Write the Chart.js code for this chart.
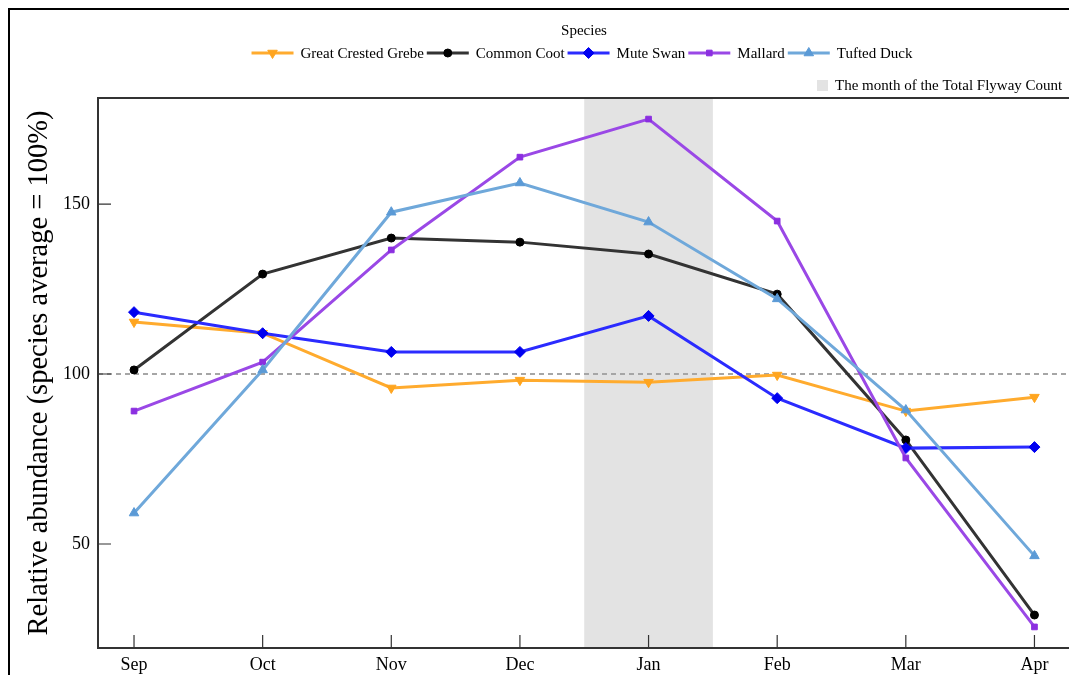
<!DOCTYPE html>
<html>
<head>
<meta charset="utf-8">
<script src="https://cdn.jsdelivr.net/npm/chart.js@4"></script>
<style>
  html, body { margin: 0; padding: 0; background: #fff; }
  canvas { display: block; }
</style>
</head>
<body>
<canvas id="abundanceChart" width="1069" height="675"></canvas>
<script>
// months on the x axis
const months = ["Sep", "Oct", "Nov", "Dec", "Jan", "Feb", "Mar", "Apr"];
const yTicks = [50, 100, 150];

// relative abundance per species (species average = 100%)
const grebe = [115.3, 112.0, 95.9, 98.2, 97.6, 99.7, 89.1, 93.2];
const coot = [101.2, 129.4, 140.0, 138.8, 135.3, 123.5, 80.6, 29.1];
const muteSwan = [118.2, 112.0, 106.5, 106.5, 117.1, 92.9, 78.2, 78.5];
const mallard = [89.1, 103.5, 136.5, 163.8, 175.0, 145.0, 75.3, 25.6];
const tuftedDuck = [59.1, 101.2, 147.6, 156.2, 144.7, 122.1, 89.4, 46.5];

// month of the Total Flyway Count (index into months)
const flywayMonth = 4;
const referenceLine = 100;

const FONT = "'Liberation Serif', 'Times New Roman', serif";

function series(label, values, line, marker, style, rotation, radius, order) {
    return {
        label: label,
        data: values.map((v, i) => ({ x: i, y: v })),
        borderColor: line,
        backgroundColor: marker,
        pointBackgroundColor: marker,
        pointBorderColor: marker,
        pointStyle: style,
        rotation: rotation,
        pointRadius: radius,
        pointBorderWidth: 1,
        borderWidth: 3,
        tension: 0,
        order: order
    };
}

const datasets = [
    series("Great Crested Grebe", grebe, "#ffab2e", "#ffa51f", "triangle", 180, 5.5, 4),
    series("Common Coot", coot, "#333333", "#000000", "circle", 0, 4, 3),
    series("Mute Swan", muteSwan, "#2b2bff", "#0000f0", "rectRot", 0, 5.5, 2),
    series("Mallard", mallard, "#9a48e6", "#8b2fe0", "rect", 0, 4, 1),
    series("Tufted Duck", tuftedDuck, "#6fa8da", "#5b9ad6", "triangle", 0, 5.5, 0)
];

// shaded month, dashed 100% line, frame, inward ticks and legends
const decorPlugin = {
    id: "decor",
    beforeDatasetsDraw(chart) {
        const { ctx, chartArea: a, scales: { x, y } } = chart;
        ctx.save();
        ctx.fillStyle = "#e3e3e3";
        const x0 = x.getPixelForValue(flywayMonth - 0.5);
        const x1 = x.getPixelForValue(flywayMonth + 0.5);
        ctx.fillRect(x0, a.top, x1 - x0, a.bottom - a.top);

        const yr = y.getPixelForValue(referenceLine);
        ctx.strokeStyle = "#a6a6a6";
        ctx.lineWidth = 2;
        ctx.setLineDash([5, 4]);
        ctx.beginPath();
        ctx.moveTo(a.left, yr);
        ctx.lineTo(chart.width, yr);
        ctx.stroke();
        ctx.restore();
    },
    afterDraw(chart) {
        const { ctx, chartArea: a, scales: { x, y } } = chart;
        ctx.save();
        // outer border
        ctx.strokeStyle = "#000";
        ctx.lineWidth = 2;
        ctx.beginPath();
        ctx.moveTo(9, chart.height + 5);
        ctx.lineTo(9, 9);
        ctx.lineTo(chart.width + 5, 9);
        ctx.stroke();

        // plot frame
        ctx.strokeStyle = "#333";
        ctx.lineWidth = 2;
        ctx.beginPath();
        ctx.moveTo(chart.width + 5, a.top);
        ctx.lineTo(a.left, a.top);
        ctx.lineTo(a.left, a.bottom);
        ctx.lineTo(chart.width + 5, a.bottom);
        ctx.stroke();

        // inward ticks
        ctx.lineWidth = 1.2;
        ctx.beginPath();
        months.forEach((m, i) => {
            const px = x.getPixelForValue(i);
            ctx.moveTo(px, a.bottom);
            ctx.lineTo(px, a.bottom - 13);
        });
        yTicks.forEach(v => {
            const py = y.getPixelForValue(v);
            ctx.moveTo(a.left, py);
            ctx.lineTo(a.left + 13, py);
        });
        ctx.stroke();

        // species legend
        ctx.fillStyle = "#000";
        ctx.textBaseline = "middle";
        ctx.font = "15px " + FONT;
        ctx.textAlign = "center";
        ctx.fillText("Species", 584, 31);

        ctx.textAlign = "left";
        const lineLen = 42, gapText = 7, gapItem = 3;
        let total = 0;
        datasets.forEach(d => {
            total += lineLen + gapText + ctx.measureText(d.label).width + gapItem;
        });
        total -= gapItem;
        let cx = 582 - total / 2;
        const ly = 53;
        datasets.forEach(d => {
            ctx.strokeStyle = d.borderColor;
            ctx.lineWidth = 3;
            ctx.beginPath();
            ctx.moveTo(cx, ly);
            ctx.lineTo(cx + lineLen, ly);
            ctx.stroke();
            ctx.fillStyle = d.pointBackgroundColor;
            ctx.strokeStyle = d.pointBorderColor;
            ctx.lineWidth = 1;
            Chart.helpers.drawPoint(ctx, {
                pointStyle: d.pointStyle,
                rotation: d.rotation,
                radius: d.pointRadius,
                borderWidth: 1
            }, cx + lineLen / 2, ly);
            ctx.fillStyle = "#000";
            ctx.fillText(d.label, cx + lineLen + gapText, ly + 1);
            cx += lineLen + gapText + ctx.measureText(d.label).width + gapItem;
        });

        // flyway count legend
        ctx.fillStyle = "#e3e3e3";
        ctx.fillRect(817, 80, 11, 11);
        ctx.fillStyle = "#000";
        ctx.fillText("The month of the Total Flyway Count", 835, 86);
        ctx.restore();
    }
};

document.addEventListener("DOMContentLoaded", function () {
    const ctx = document.getElementById("abundanceChart").getContext("2d");

    new Chart(ctx, {
        type: "line",
        data: { datasets: datasets },
        options: {
            responsive: false,
            animation: false,
            layout: { padding: { left: 0, top: 98, right: 0, bottom: 0 } },
            plugins: {
                legend: { display: false },
                tooltip: { enabled: false }
            },
            scales: {
                x: {
                    type: "linear",
                    min: -0.28,
                    max: 7.218,
                    afterBuildTicks: (scale) => {
                        scale.ticks = months.map((m, i) => ({ value: i }));
                    },
                    afterFit: (scale) => { scale.height = 27; },
                    ticks: {
                        callback: (value) => months[value],
                        font: { family: FONT, size: 18 },
                        color: "#000",
                        padding: -2,
                        maxRotation: 0
                    },
                    grid: { display: false },
                    border: { display: false }
                },
                y: {
                    type: "linear",
                    min: 19.4,
                    max: 181.2,
                    afterBuildTicks: (scale) => {
                        scale.ticks = yTicks.map(v => ({ value: v }));
                    },
                    afterFit: (scale) => { scale.width = 98; },
                    ticks: {
                        font: { family: FONT, size: 18 },
                        color: "#000",
                        padding: 8
                    },
                    title: {
                        display: true,
                        text: "Relative abundance (species average = 100%)",
                        font: { family: FONT, size: 28.5 },
                        color: "#000",
                        padding: { top: 22, bottom: 0 }
                    },
                    grid: { display: false, drawTicks: false },
                    border: { display: false }
                }
            }
        },
        plugins: [decorPlugin]
    });
});
</script>
</body>
</html>
